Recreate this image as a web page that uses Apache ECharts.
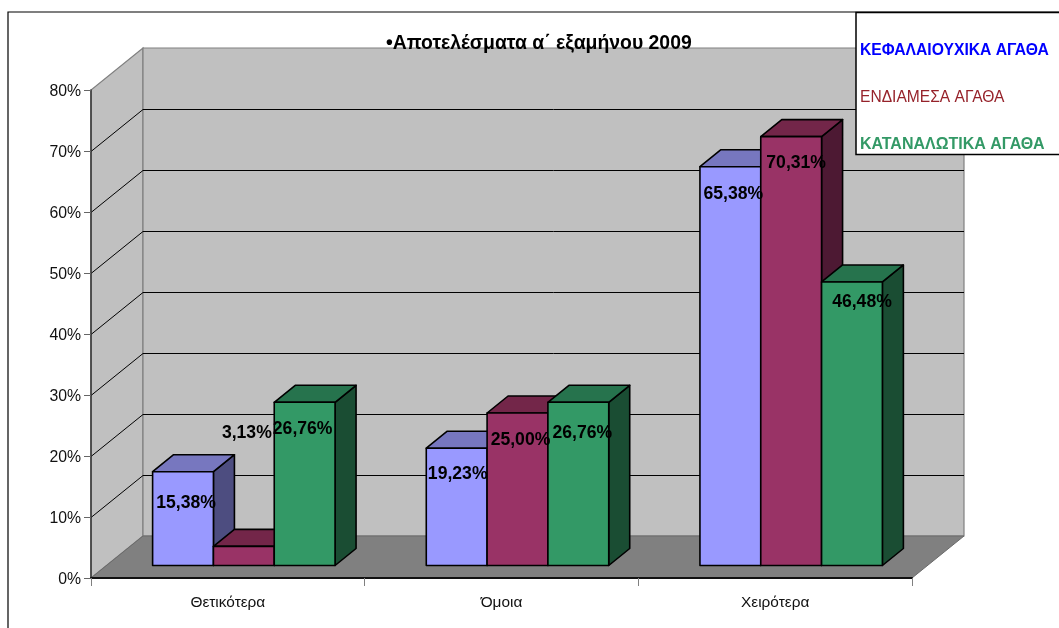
<!DOCTYPE html>
<html>
<head>
<meta charset="utf-8">
<style>html,body{margin:0;padding:0;background:#fff}#c{width:1059px;height:628px}</style>
<script src="https://cdn.jsdelivr.net/npm/echarts@6/dist/echarts.min.js"></script>
</head>
<body>
<div id="c"></div>
<script>
const categories = ['Θετικότερα', 'Όμοια', 'Χειρότερα'];
const capitalGoods = [15.38, 19.23, 65.38];
const intermediateGoods = [3.13, 25.00, 70.31];
const consumerGoods = [26.76, 26.76, 46.48];
const yTicks = [0, 10, 20, 30, 40, 50, 60, 70, 80];
const seriesNames = ['ΚΕΦΑΛΑΙΟΥΧΙΚΑ ΑΓΑΘΑ', 'ΕΝΔΙΑΜΕΣΑ ΑΓΑΘΑ', 'ΚΑΤΑΝΑΛΩΤΙΚΑ ΑΓΑΘΑ'];
const titleText = '•Αποτελέσματα α΄ εξαμήνου 2009';

const FONT = '"Liberation Sans", Arial, sans-serif';
const WALL_DX = 52, WALL_DY = 42;
const BAR_INSET_X = 16, BAR_INSET_Y = 12.5;
const BAR_DX = 21, BAR_DY = 17;
const palettes = [
  { front: '#9999FF', top: '#7777BF', side: '#4D4D80' },
  { front: '#993366', top: '#732649', side: '#4D1933' },
  { front: '#339966', top: '#26734D', side: '#1A4D33' }
];
const labelNudges = [
  [[3, 31], [1, 26], [3, 27]],
  [[3, -113], [3, 27], [5, 27]],
  [[-2, 27], [4, 31], [10, 20]]
];

function renderWalls(params, api) {
  const cs = params.coordSys;
  const v = api.value(1);
  const y = api.coord([0, v])[1];
  const x0 = cs.x, x1 = cs.x + cs.width;
  const children = [];
  if (params.dataIndex === 0) {
    const yTop = cs.y;
    children.push(
      { type: 'polygon', shape: { points: [[x0, y], [x0 + WALL_DX, y - WALL_DY], [x0 + WALL_DX, yTop - WALL_DY], [x0, yTop]] },
        style: { fill: '#C0C0C0', stroke: '#808080', lineWidth: 1.2 } },
      { type: 'polygon', shape: { points: [[x0 + WALL_DX, y - WALL_DY], [x1 + WALL_DX, y - WALL_DY], [x1 + WALL_DX, yTop - WALL_DY], [x0 + WALL_DX, yTop - WALL_DY]] },
        style: { fill: '#C0C0C0', stroke: '#808080', lineWidth: 1.2 } },
      { type: 'polygon', shape: { points: [[x0, y], [x1, y], [x1 + WALL_DX, y - WALL_DY], [x0 + WALL_DX, y - WALL_DY]] },
        style: { fill: '#808080', stroke: '#6A6A6A', lineWidth: 1 } }
    );
  } else if (v < yTicks[yTicks.length - 1]) {
    children.push({
      type: 'polyline',
      shape: { points: [[x0, y + 0.5], [x0 + WALL_DX, y - WALL_DY + 0.5], [x1 + WALL_DX, y - WALL_DY + 0.5]] },
      style: { fill: 'none', stroke: '#000', lineWidth: 1 }
    });
  }
  return { type: 'group', children };
}

function barRenderer(seriesIndex) {
  return function (params, api) {
    const cat = api.value(0), val = api.value(1);
    const w = api.size([1, 0])[0] / 4.5;
    const pal = palettes[seriesIndex];
    const cx = api.coord([cat, 0])[0] + BAR_INSET_X + (seriesIndex - 1) * w;
    const yb = api.coord([cat, 0])[1] - BAR_INSET_Y;
    const yt = api.coord([cat, val])[1] - BAR_INSET_Y;
    const l = cx - w / 2, r = cx + w / 2;
    const edge = { stroke: '#000', lineWidth: 1.6, lineJoin: 'round' };
    const nudge = labelNudges[seriesIndex][cat];
    return {
      type: 'group',
      children: [
        { type: 'polygon', shape: { points: [[r, yb], [r + BAR_DX, yb - BAR_DY], [r + BAR_DX, yt - BAR_DY], [r, yt]] },
          style: Object.assign({ fill: pal.side }, edge) },
        { type: 'polygon', shape: { points: [[l, yt], [r, yt], [r + BAR_DX, yt - BAR_DY], [l + BAR_DX, yt - BAR_DY]] },
          style: Object.assign({ fill: pal.top }, edge) },
        { type: 'polygon', shape: { points: [[l, yb], [r, yb], [r, yt], [l, yt]] },
          style: Object.assign({ fill: pal.front }, edge) },
        { type: 'text', z2: 100,
          style: { x: cx + nudge[0], y: yt + nudge[1], text: val.toFixed(2).replace('.', ',') + '%',
            fill: '#000', fontFamily: FONT, fontSize: 17.6, fontWeight: 'bold', align: 'center', verticalAlign: 'middle' } }
      ]
    };
  };
}

function barSeries(i, values) {
  return {
    name: seriesNames[i], type: 'custom', z: 3, renderItem: barRenderer(i),
    itemStyle: { color: palettes[i].front },
    data: values.map((v, c) => [c, v]), silent: true
  };
}

const chart = echarts.init(document.getElementById('c'), null, { renderer: 'canvas' });
chart.setOption({
  animation: false,
  backgroundColor: '#fff',
  title: { text: titleText, left: 386, top: 34, padding: 0,
    textStyle: { color: '#000', fontFamily: FONT, fontSize: 19.4, fontWeight: 'bold' }, z: 6 },
  legend: {
    orient: 'vertical', left: 855, top: 43, padding: 0, itemGap: 31, itemWidth: 0, itemHeight: 0,
    icon: 'rect', itemStyle: { opacity: 0 }, selectedMode: false, z: 8,
    data: [
      { name: seriesNames[0], textStyle: { color: '#0000FF', fontFamily: FONT, fontSize: 15.7, fontWeight: 'bold' } },
      { name: seriesNames[1], textStyle: { color: '#96222A', fontFamily: FONT, fontSize: 15.6 } },
      { name: seriesNames[2], textStyle: { color: '#339966', fontFamily: FONT, fontSize: 16, fontWeight: 'bold' } }
    ]
  },
  grid: { left: 91, right: 147, top: 90, bottom: 50 },
  xAxis: {
    type: 'category', data: categories, z: 5,
    axisLine: { lineStyle: { color: '#111', width: 2 } },
    axisTick: { show: true, length: 8, lineStyle: { color: '#808080', width: 1 } },
    axisLabel: { color: '#111', fontFamily: FONT, fontSize: 15.4, margin: 17 }
  },
  yAxis: {
    type: 'value', min: 0, max: 80, interval: 10, z: 5,
    axisLine: { show: true, lineStyle: { color: '#333', width: 1.5 } },
    axisTick: { show: true, length: 7, lineStyle: { color: '#666', width: 1 } },
    axisLabel: { color: '#111', fontFamily: FONT, fontSize: 15.8, margin: 10, verticalAlign: 'top', lineHeight: 3, formatter: '{value}%' },
    splitLine: { show: false }
  },
  graphic: [
    { type: 'rect', z: 0, silent: true, shape: { x: 8, y: 12, width: 1200, height: 800 },
      style: { fill: 'none', stroke: '#000', lineWidth: 1.2 } },
    { type: 'rect', z: 7, silent: true, shape: { x: 856, y: 12.5, width: 300, height: 142 },
      style: { fill: '#fff', stroke: '#000', lineWidth: 1.5 } }
  ],
  series: [
    { type: 'custom', name: 'walls', z: 1, silent: true, renderItem: renderWalls, data: yTicks.map(t => [0, t]) },
    barSeries(0, capitalGoods),
    barSeries(1, intermediateGoods),
    barSeries(2, consumerGoods)
  ]
});
</script>
</body>
</html>
